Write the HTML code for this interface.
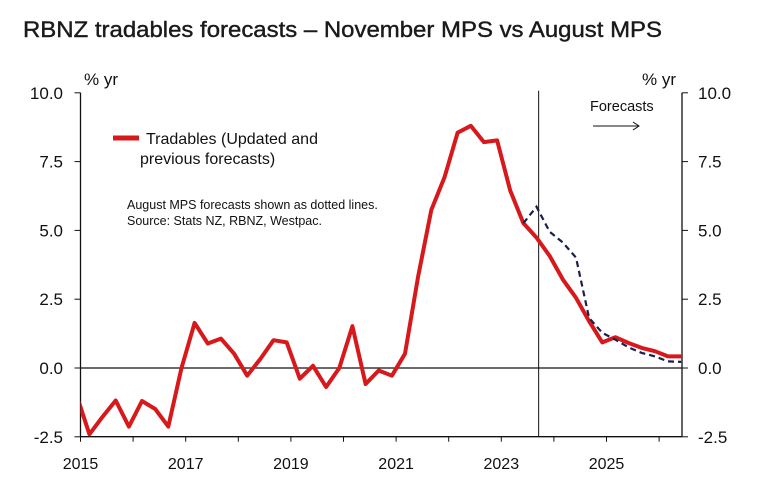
<!DOCTYPE html>
<html><head><meta charset="utf-8">
<style>
body{margin:0;background:#fff;}
svg{display:block;font-family:"Liberation Sans",sans-serif;}
</style></head>
<body>
<svg id="chart" width="762" height="491" viewBox="0 0 762 491">
<text x="23" y="37" font-size="22" fill="#1a1a1a" textLength="639" lengthAdjust="spacingAndGlyphs" stroke="#1a1a1a" stroke-width="0.4">RBNZ tradables forecasts – November MPS vs August MPS</text>
<g id="axes"></g>
<g id="series"></g>
<text x="84" y="85" font-size="17" fill="#111">% yr</text>
<text x="642" y="85" font-size="17" fill="#111">% yr</text>
<line x1="113" y1="138" x2="139" y2="138" stroke="#d7191c" stroke-width="5"/>
<text x="146" y="144" font-size="16" fill="#111">Tradables (Updated and</text>
<text x="140" y="164" font-size="16" fill="#111">previous forecasts)</text>
<text x="127" y="209" font-size="12.5" fill="#111">August MPS forecasts shown as dotted lines.</text>
<text x="127" y="225" font-size="12.5" fill="#111">Source: Stats NZ, RBNZ, Westpac.</text>
<text x="590" y="111" font-size="14.5" fill="#111">Forecasts</text>
<line x1="593" y1="126" x2="638" y2="126" stroke="#111" stroke-width="1"/>
<path d="M633,122 L639,126 L633,130" fill="none" stroke="#111" stroke-width="1"/>
</svg>
<script>
const yTicks=[10.0,7.5,5.0,2.5,0.0,-2.5];
const yTickLabels=["10.0","7.5","5.0","2.5","0.0","-2.5"];
const xYears=[2015,2016,2017,2018,2019,2020,2021,2022,2023,2024,2025,2026];
const xYearLabels=["2015","","2017","","2019","","2021","","2023","","2025",""];
const startYear=2014.92;
const tradables=[-0.95,-2.41,-1.77,-1.18,-2.13,-1.2,-1.49,-2.13,0.0,1.64,0.89,1.07,0.52,-0.28,0.33,1.01,0.93,-0.39,0.08,-0.69,0.0,1.52,-0.58,-0.09,-0.28,0.52,3.34,5.74,6.93,8.55,8.8,8.21,8.27,6.45,5.26,4.74,4.07,3.22,2.55,1.7,0.93,1.12,0.91,0.73,0.61,0.42,0.42];
const augustStart=34;
const august=[5.26,5.86,4.95,4.56,4.01,1.82,1.28,1.03,0.75,0.55,0.42,0.24,0.22];
const forecastStartYear=2023.71;

const L=80.5,R=682,T=92.7,B=436.7;
const xs=y=>L+(y-2015)*52.6;
const ys=v=>368+( -v)*27.52;
const NS="http://www.w3.org/2000/svg";
function mk(tag,attrs,parent){const e=document.createElementNS(NS,tag);for(const k in attrs)e.setAttribute(k,attrs[k]);parent.appendChild(e);return e;}
const ax=document.getElementById('axes'),se=document.getElementById('series');
let e;
e=mk('line',{x1:L,y1:T,x2:L,y2:B,stroke:'#111','stroke-width':1.3},ax);


e=mk('line',{x1:R,y1:T,x2:R,y2:B,stroke:'#111','stroke-width':1.3},ax);


e=mk('line',{x1:L,y1:B,x2:R,y2:B,stroke:'#111','stroke-width':1.3},ax);


e=mk('line',{x1:L,y1:ys(0),x2:R,y2:ys(0),stroke:'#111','stroke-width':1.2},ax);


e=mk('line',{x1:xs(forecastStartYear),y1:T-2,x2:xs(forecastStartYear),y2:B,stroke:'#111','stroke-width':1},ax);


yTicks.forEach((v,i)=>{
  const y=ys(v);
  mk('line',{x1:L-6,y1:y,x2:L,y2:y,stroke:'#111','stroke-width':1},ax);
  mk('line',{x1:R,y1:y,x2:R+6,y2:y,stroke:'#111','stroke-width':1},ax);
  let t=mk('text',{x:63,y:y+6,'text-anchor':'end','font-size':17,fill:'#111'},ax);
  t.textContent=yTickLabels[i];
  
  
  t=mk('text',{x:698,y:y+6,'font-size':17,fill:'#111'},ax);
  t.textContent=yTickLabels[i];
  
  
});
xYears.forEach((yr,i)=>{
  const x=xs(yr);
  mk('line',{x1:x,y1:B,x2:x,y2:B+5,stroke:'#111','stroke-width':1},ax);
  if(xYearLabels[i]){
    const t=mk('text',{x:x,y:469,'text-anchor':'middle','font-size':16,fill:'#111'},ax);
    t.textContent=xYearLabels[i];
    
    
  }
});
mk('clipPath',{id:'clip'},se);
mk('rect',{x:L,y:0,width:R-L+1,height:491},document.getElementById('clip'));
const pts=tradables.map((v,i)=>xs(startYear+i*0.25).toFixed(1)+','+ys(v).toFixed(1)).join(' ');
e=mk('polyline',{points:pts,fill:'none',stroke:'#d7191c','stroke-width':4,'stroke-linejoin':'round','clip-path':'url(#clip)'},se);


const pts2=august.map((v,i)=>xs(startYear+(augustStart+i)*0.25).toFixed(1)+','+ys(v).toFixed(1)).join(' ');
e=mk('polyline',{points:pts2,fill:'none',stroke:'#1c1f4a','stroke-width':2.2,'stroke-dasharray':'6,4','clip-path':'url(#clip)'},se);


</script>
</body></html>
